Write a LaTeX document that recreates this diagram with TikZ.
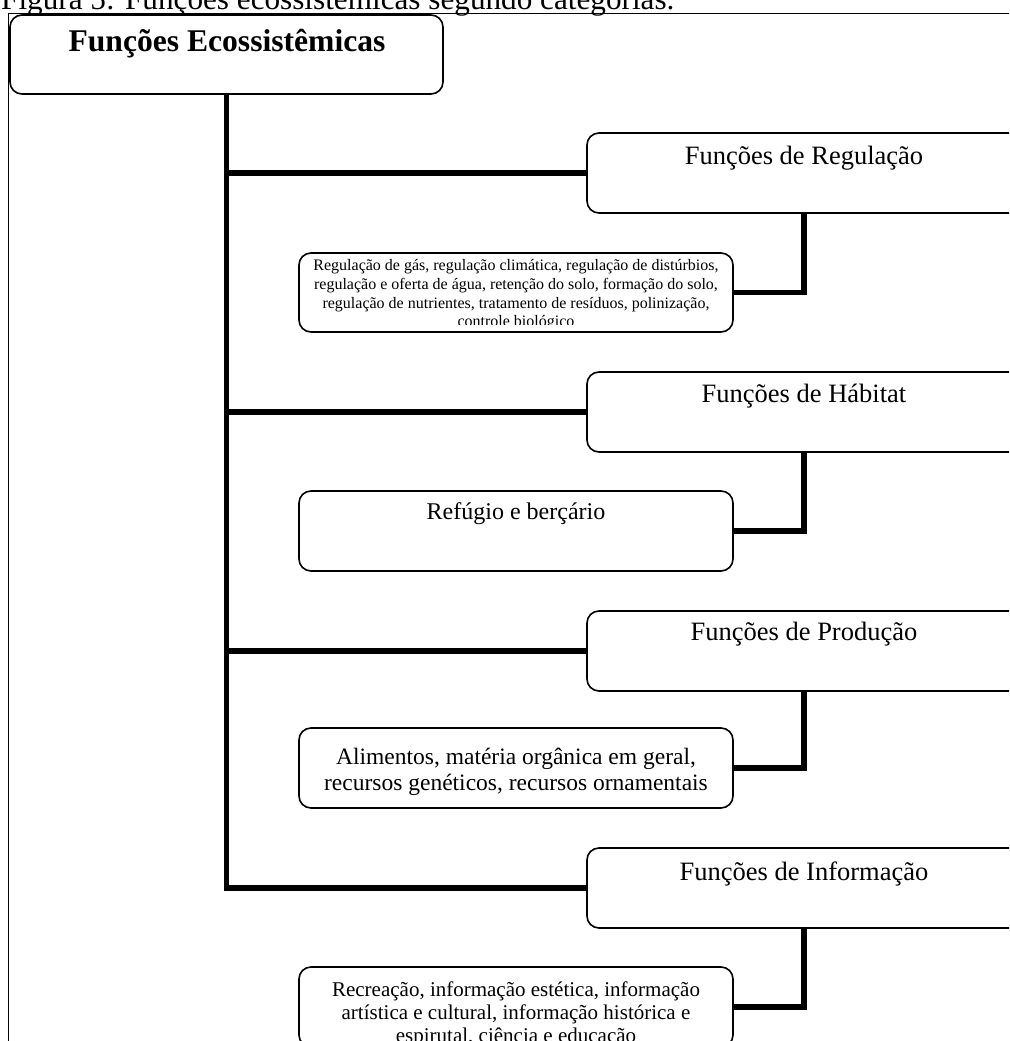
\documentclass[tikz,border=0pt]{standalone}
\usepackage{fontspec}
\setmainfont{Liberation Serif}
\begin{document}
\begin{tikzpicture}[x=1pt,y=-1pt,
  box/.style={draw, line width=1.6pt, rounded corners=12pt, minimum width=434pt,
    minimum height=80pt, inner sep=0pt, outer sep=0pt, anchor=north west},
  conn/.style={line width=5.5pt},
  head/.style={font=\fontsize{26.5}{30}\selectfont, anchor=base, inner sep=0pt},
  body/.style={align=center, inner sep=0pt, anchor=north}]
\useasboundingbox (0,0) rectangle (1009,1041);
\clip (0,0) rectangle (1009,1041);

% caption and frame
\node[anchor=base west, inner sep=0pt, font=\fontsize{31.2}{34}\selectfont] (cap) at (1,10)
  {Figura 5: Funções ecossistêmicas segundo categorias.};
\draw[line width=1.3pt] (8.5,1100) -- (8.5,13.8) -- (1100,13.8);

% root
\node[box, minimum width=433pt, minimum height=79pt] (title) at (10,15) {};
\node[font=\bfseries\fontsize{31.6}{34}\selectfont, anchor=base, inner sep=0pt] (title-t) at (227,51.5)
  {Funções Ecossistêmicas};

% category boxes
\node[box] (reg) at (587,133) {};
\node[box] (hab) at (587,372) {};
\node[box] (pro) at (587,611) {};
\node[box] (inf) at (587,848) {};
\node[head] (reg-t) at (804,164) {Funções de Regulação};
\node[head] (hab-t) at (804,402) {Funções de Hábitat};
\node[head] (pro-t) at (804,640) {Funções de Produção};
\node[head] (inf-t) at (804,880) {Funções de Informação};

% detail boxes
\node[box, minimum height=79pt] (regs) at (299,253) {};
\node[box] (habs) at (299,491) {};
\node[box] (pros) at (299,728) {};
\node[box] (infs) at (299,967) {};

\begin{scope}
  \clip (299,253) rectangle (733,324.5);
  \node[body, font=\fontsize{16}{18.6}\selectfont] (regs-t) at (516,259.5)
    {Regulação de gás, regulação climática, regulação de distúrbios,\\
     regulação e oferta de água, retenção do solo, formação do solo,\\
     regulação de nutrientes, tratamento de resíduos, polinização,\\
     controle biológico};
\end{scope}
\node[head, font=\fontsize{24}{28}\selectfont] (habs-t) at (516,519) {Refúgio e berçário};
\node[body, font=\fontsize{23.5}{26}\selectfont] (pros-t) at (516,748)
  {Alimentos, matéria orgânica em geral,\\ recursos genéticos, recursos ornamentais};
\node[body, font=\fontsize{21}{22.8}\selectfont] (infs-t) at (516,982)
  {Recreação, informação estética, informação\\ artística e cultural, informação histórica e\\ espirutal, ciência e educação};

% connectors
\draw[conn] (reg.west) -| (title.south);
\draw[conn] (hab.west) -| (title.south);
\draw[conn] (pro.west) -| (title.south);
\draw[conn] (inf.west) -| (title.south);
\draw[conn] (reg.south) |- (regs.east);
\draw[conn] (hab.south) |- (habs.east);
\draw[conn] (pro.south) |- (pros.east);
\draw[conn] (inf.south) |- (infs.east);
\end{tikzpicture}
\end{document}
